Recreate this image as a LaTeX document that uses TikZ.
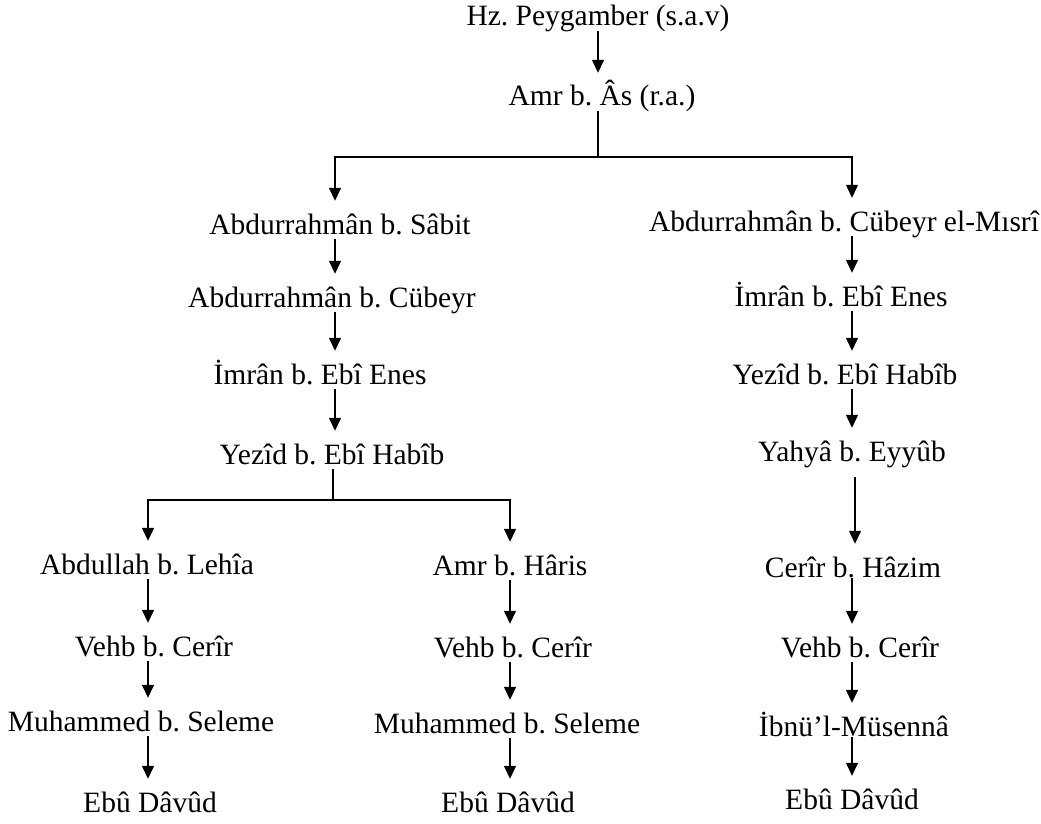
\documentclass[tikz,border=0pt]{standalone}
\usepackage{fontspec}
\setmainfont{Liberation Serif}
\usetikzlibrary{arrows.meta}
\frenchspacing
\begin{document}
\begin{tikzpicture}[x=1pt,y=-1pt,
  person/.style={inner sep=0pt,text height=23pt,text depth=5pt,font=\fontsize{29.5}{35}\selectfont},
  ln/.style={line width=1.4pt,line join=miter},
  arr/.style={ln,-{Triangle[length=13pt,width=12pt]},shorten >=10pt}]
\useasboundingbox (0,0) rectangle (1041,824);
% column coordinates
\coordinate (cT) at (598,0);
\coordinate (cL) at (335,0);
\coordinate (cY) at (333,0);
\coordinate (cLL) at (148,0);
\coordinate (cLM) at (510,0);
\coordinate (cR) at (852,0);
\coordinate (j1) at (598,157);
\coordinate (j2) at (333,500);
% nodes
\node[person] (hz) at (598,17) {Hz. Peygamber (s.a.v)};
\node[person] (amr) at (602,97) {Amr b. Âs (r.a.)};
\node[person] (sabit) at (340,225) {Abdurrahmân b. Sâbit};
\node[person] (cubL) at (332,298) {Abdurrahmân b. Cübeyr};
\node[person] (imrL) at (320,375) {İmrân b. Ebî Enes};
\node[person] (yezL) at (332,455) {Yezîd b. Ebî Habîb};
\node[person] (lehia) at (147,565) {Abdullah b. Lehîa};
\node[person] (vehbL) at (154,647) {Vehb b. Cerîr};
\node[person] (muhL) at (141,722) {Muhammed b. Seleme};
\node[person] (ebuL) at (150,803) {Ebû Dâvûd};
\node[person] (haris) at (510,566) {Amr b. Hâris};
\node[person] (vehbM) at (513,648) {Vehb b. Cerîr};
\node[person] (muhM) at (507,724) {Muhammed b. Seleme};
\node[person] (ebuM) at (508,803) {Ebû Dâvûd};
\node[person] (misri) at (844,222) {Abdurrahmân b. Cübeyr el-Mısrî};
\node[person] (imrR) at (841,297) {İmrân b. Ebî Enes};
\node[person] (yezR) at (845,375) {Yezîd b. Ebî Habîb};
\node[person] (yahya) at (852,452) {Yahyâ b. Eyyûb};
\node[person] (cerir) at (853,568) {Cerîr b. Hâzim};
\node[person] (vehbR) at (860,648) {Vehb b. Cerîr};
\node[person] (ibnu) at (854,727) {İbnü’l-Müsennâ};
\node[person] (ebuR) at (852,800) {Ebû Dâvûd};
% top
\draw[arr] (hz.south -| cT) -- (cT |- amr.north);
\draw[ln] (amr.south -| cT) -- (j1);
\draw[arr] (j1) -| (cL |- sabit.north);
\draw[arr] (j1) -| (cR |- misri.north);
% left chain
\draw[arr] (sabit.south -| cL) -- (cL |- cubL.north);
\draw[arr] (cubL.south -| cL) -- (cL |- imrL.north);
\draw[arr] (imrL.south -| cL) -- (cL |- yezL.north);
\draw[ln] (yezL.south -| cY) -- (j2);
\draw[arr] (j2) -| (cLL |- lehia.north);
\draw[arr] (j2) -| (cLM |- haris.north);
% left-left chain
\draw[arr] (lehia.south -| cLL) -- (cLL |- vehbL.north);
\draw[arr] (vehbL.south -| cLL) -- (cLL |- muhL.north);
\draw[arr] (muhL.south -| cLL) -- (cLL |- ebuL.north);
% left-middle chain
\draw[arr] (haris.south -| cLM) -- (cLM |- vehbM.north);
\draw[arr] (vehbM.south -| cLM) -- (cLM |- muhM.north);
\draw[arr] (muhM.south -| cLM) -- (cLM |- ebuM.north);
% right chain
\draw[arr] (misri.south -| cR) -- (cR |- imrR.north);
\draw[arr] (imrR.south -| cR) -- (cR |- yezR.north);
\draw[arr] (yezR.south -| cR) -- (cR |- yahya.north);
\draw[arr,shorten <=11pt] ([xshift=3pt]yahya.south -| cR) -- ([xshift=3pt]cR |- cerir.north);
\draw[arr,shorten <=-4pt] (cerir.south -| cR) -- (cR |- vehbR.north);
\draw[arr] (vehbR.south -| cR) -- (cR |- ibnu.north);
\draw[arr,shorten <=-4pt] (ibnu.south -| cR) -- (cR |- ebuR.north);
\end{tikzpicture}
\end{document}
